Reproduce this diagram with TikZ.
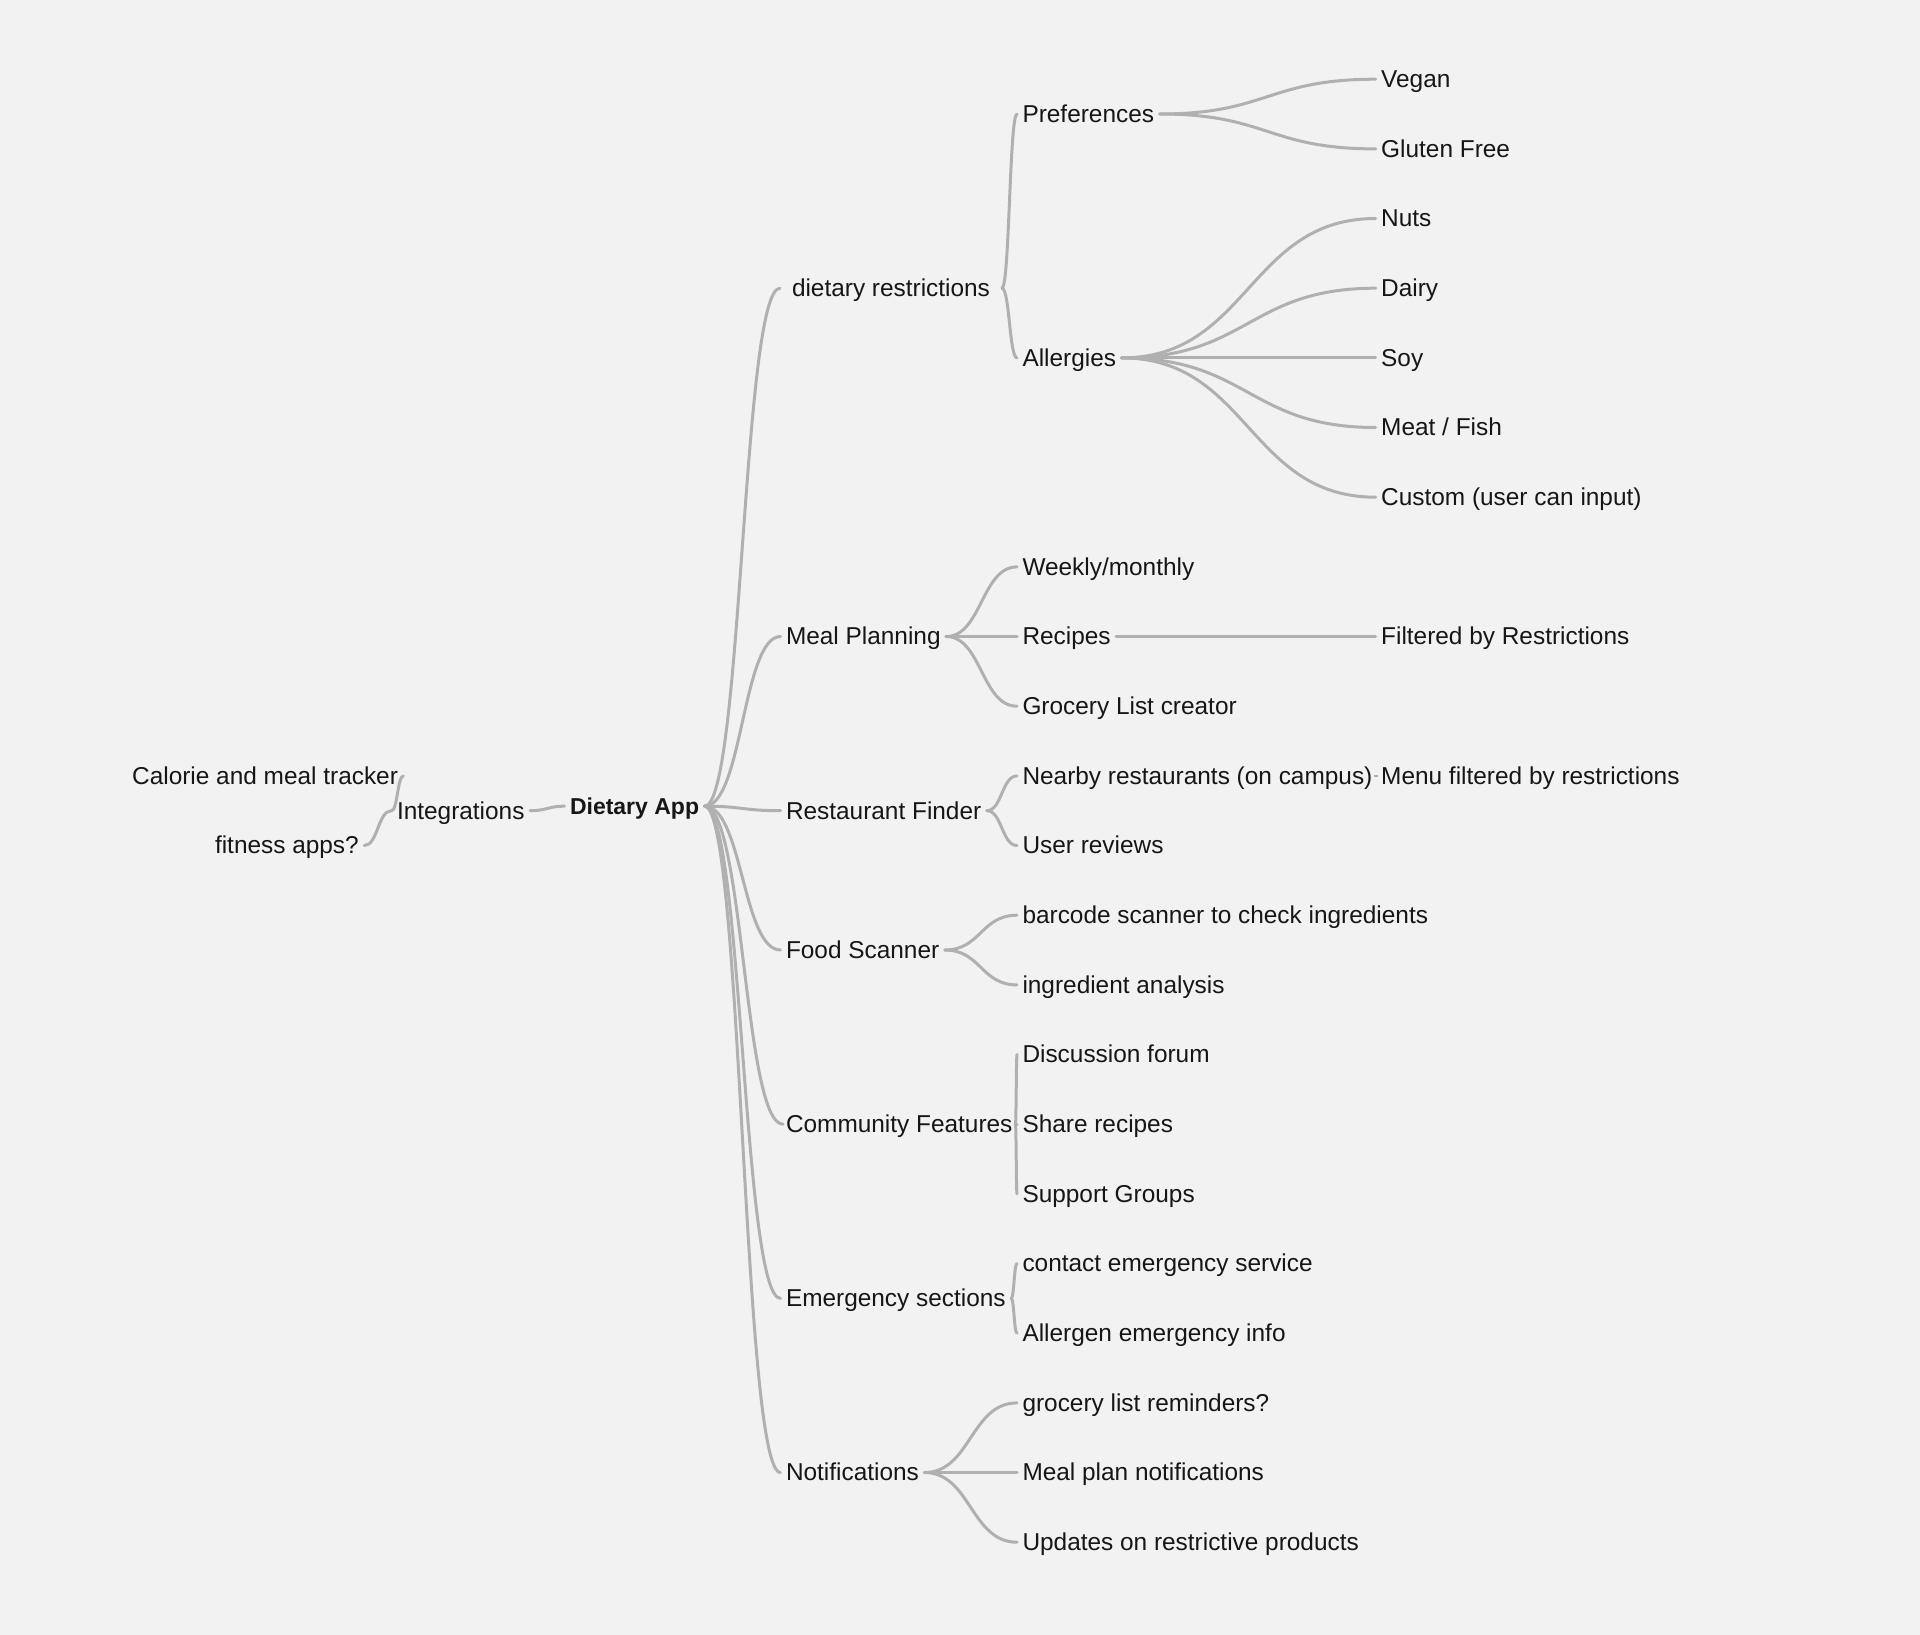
\documentclass[tikz,border=0pt]{standalone}
\usepackage{fontspec}
\setmainfont{Liberation Sans}
\usetikzlibrary{calc}
\definecolor{bgc}{HTML}{F2F2F2}
\definecolor{linec}{HTML}{B0B0B0}
\definecolor{txtc}{HTML}{161616}
\tikzset{
  lbl/.style={anchor=west, inner sep=0pt, outer sep=5.5pt, text height=16.8pt, text depth=0pt,
    font=\fontsize{24.4}{29}\selectfont, text=txtc},
  lblr/.style={lbl, anchor=east},
  rootlbl/.style={lbl, font=\fontsize{23}{28}\selectfont\bfseries},
  conn/.style={draw=linec, line width=3pt, line cap=round},
}
\newcommand\mconn[2]{\draw[conn] let \p1=#1, \p2=#2, \p3=($#1!0.5!#2$) in (\p1) .. controls (\x3,\y1) and (\x3,\y2) .. (\p2);}
\begin{document}
\begin{tikzpicture}[x=1pt,y=-1pt]
\fill[bgc] (0,0) rectangle (1920,1635);
\useasboundingbox (0,0) rectangle (1920,1635);

\begin{scope}[yshift=-1.2pt]
% root and left side
\node[rootlbl] (dapp) at (564.5,805) {Dietary App};
\node[lbl] (integ) at (391.5,809.5) {Integrations};
\node[lblr] (calorie) at (403.5,774.7) {Calorie and meal tracker};
\node[lblr] (fitness) at (364.3,844.3) {fitness apps?};

% level 1
\node[lbl, outer sep=12pt] (dr) at (780,287) {dietary restrictions};
\node[lbl] (meal) at (780.5,635.3) {Meal Planning};
\node[lbl] (rest) at (780.5,809.5) {Restaurant Finder};
\node[lbl] (food) at (780.5,948.8) {Food Scanner};
\node[lbl, outer sep=3pt] (comm) at (783,1123) {Community Features};
\node[lbl] (emerg) at (780.5,1297.2) {Emergency sections};
\node[lbl] (notif) at (780.5,1471.3) {Notifications};

% level 2
\node[lbl] (pref) at (1017,112.8) {Preferences};
\node[lbl] (allerg) at (1017,356.7) {Allergies};
\node[lbl] (weekly) at (1017,565.7) {Weekly/monthly};
\node[lbl] (recipes) at (1017,635.3) {Recipes};
\node[lbl] (grocery) at (1017,705) {Grocery List creator};
\node[lbl] (nearby) at (1017,774.7) {Nearby restaurants (on campus)};
\node[lbl] (reviews) at (1017,844.3) {User reviews};
\node[lbl] (barcode) at (1017,914) {barcode scanner to check ingredients};
\node[lbl] (ingred) at (1017,983.7) {ingredient analysis};
\node[lbl] (forum) at (1017,1053.3) {Discussion forum};
\node[lbl] (share) at (1017,1123) {Share recipes};
\node[lbl] (support) at (1017,1192.7) {Support Groups};
\node[lbl] (contact) at (1017,1262.3) {contact emergency service};
\node[lbl] (allinfo) at (1017,1332) {Allergen emergency info};
\node[lbl] (remind) at (1017,1401.7) {grocery list reminders?};
\node[lbl] (mealnot) at (1017,1471.3) {Meal plan notifications};
\node[lbl] (updates) at (1017,1541) {Updates on restrictive products};

% level 3
\node[lbl] (vegan) at (1375.7,78) {Vegan};
\node[lbl] (gluten) at (1375.7,147.7) {Gluten Free};
\node[lbl] (nuts) at (1375.7,217.3) {Nuts};
\node[lbl] (dairy) at (1375.7,287) {Dairy};
\node[lbl] (soy) at (1375.7,356.7) {Soy};
\node[lbl] (meat) at (1375.7,426.3) {Meat / Fish};
\node[lbl] (custom) at (1375.7,496) {Custom (user can input)};
\node[lbl] (filtered) at (1375.7,635.3) {Filtered by Restrictions};
\node[lbl] (menu) at (1375.7,774.7) {Menu filtered by restrictions};

% connectors
\foreach \c in {dr,meal,rest,food,comm,emerg,notif}{\mconn{(dapp.east)}{(\c.west)}}
\mconn{(dapp.west)}{(integ.east)}
\mconn{(integ.west)}{(calorie.east)}
\mconn{(integ.west)}{(fitness.east)}
\foreach \c in {pref,allerg}{\mconn{(dr.east)}{(\c.west)}}
\foreach \c in {vegan,gluten}{\mconn{(pref.east)}{(\c.west)}}
\foreach \c in {nuts,dairy,soy,meat,custom}{\mconn{(allerg.east)}{(\c.west)}}
\foreach \c in {weekly,recipes,grocery}{\mconn{(meal.east)}{(\c.west)}}
\mconn{(recipes.east)}{(filtered.west)}
\foreach \c in {nearby,reviews}{\mconn{(rest.east)}{(\c.west)}}
\draw[conn, line width=2.4pt, line cap=butt] ([xshift=-1.5pt]menu.west) -- ([xshift=2.5pt]menu.west);
\foreach \c in {barcode,ingred}{\mconn{(food.east)}{(\c.west)}}
\foreach \c in {forum,share,support}{\mconn{(comm.east)}{(\c.west)}}
\foreach \c in {contact,allinfo}{\mconn{(emerg.east)}{(\c.west)}}
\foreach \c in {remind,mealnot,updates}{\mconn{(notif.east)}{(\c.west)}}
\end{scope}
\end{tikzpicture}
\end{document}
